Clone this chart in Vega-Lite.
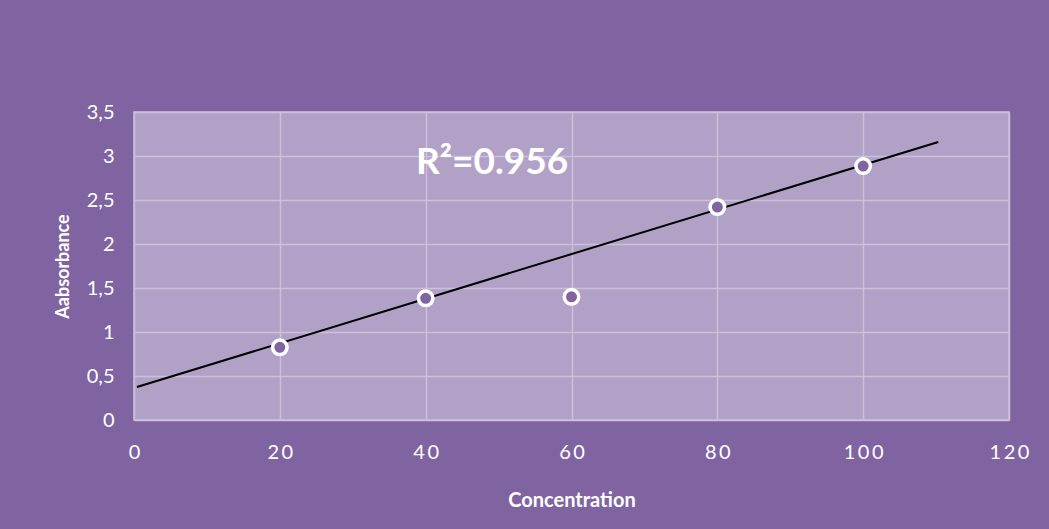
{
  "$schema": "https://vega.github.io/schema/vega-lite/v6.json",
  "width": 875,
  "height": 308,
  "autosize": {"type": "none"},
  "padding": {"left": 134, "top": 112, "right": 40, "bottom": 109},
  "background": "#8064A2",
  "config": {
    "view": {"fill": "#B2A1C7", "stroke": "#CBC0DA", "strokeWidth": 1.5},
    "axis": {
      "grid": true,
      "gridColor": "#CBC0DA",
      "gridWidth": 1.5,
      "domain": false,
      "ticks": false,
      "tickSize": 0,
      "labelColor": "white",
      "labelFont": "Lato",
      "labelFontSize": 20,
      "titleColor": "white",
      "titleFont": "Lato",
      "titleFontWeight": "bold",
      "titleFontSize": 18
    }
  },
  "datasets": {
    "points": [
      {"Concentration": 20, "Absorbance": 0.826},
      {"Concentration": 40, "Absorbance": 1.383},
      {"Concentration": 60, "Absorbance": 1.4},
      {"Concentration": 80, "Absorbance": 2.42},
      {"Concentration": 100, "Absorbance": 2.886}
    ],
    "trend": [
      {"Concentration": 0.4, "Absorbance": 0.375},
      {"Concentration": 110.3, "Absorbance": 3.16}
    ],
    "note": [
      {"Concentration": 49.1, "Absorbance": 2.92, "text": "R²=0.956"}
    ]
  },
  "encoding": {
    "x": {
      "field": "Concentration",
      "type": "quantitative",
      "scale": {"domain": [0, 120], "nice": false, "zero": false},
      "axis": {
        "title": "Concentration",
        "titleFontSize": 20,
        "values": [0, 20, 40, 60, 80, 100, 120],
        "labelFlush": false,
        "labelOverlap": false,
        "labelPadding": 22,
        "titlePadding": 28,
        "labelExpr": "join(split(datum.label, ''), '\u2009')"
      }
    },
    "y": {
      "field": "Absorbance",
      "type": "quantitative",
      "scale": {"domain": [0, 3.5], "nice": false},
      "axis": {
        "title": "Aabsorbance",
        "values": [0, 0.5, 1, 1.5, 2, 2.5, 3, 3.5],
        "labelFlush": false,
        "labelPadding": 20,
        "titlePadding": 14,
        "labelExpr": "replace(format(datum.value, '~g'), '.', ',')"
      }
    }
  },
  "layer": [
    {
      "data": {"name": "trend"},
      "mark": {"type": "line", "color": "black", "strokeWidth": 2, "clip": false}
    },
    {
      "data": {"name": "points"},
      "mark": {"type": "point", "shape": "circle", "filled": true, "fill": "#8064A2", "stroke": "white", "strokeWidth": 3.5, "size": 210, "opacity": 1, "fillOpacity": 1}
    },
    {
      "data": {"name": "note"},
      "mark": {"type": "text", "color": "white", "font": "Lato", "fontWeight": "bold", "fontSize": 37, "align": "center", "baseline": "middle"},
      "encoding": {"text": {"field": "text"}}
    }
  ]
}
